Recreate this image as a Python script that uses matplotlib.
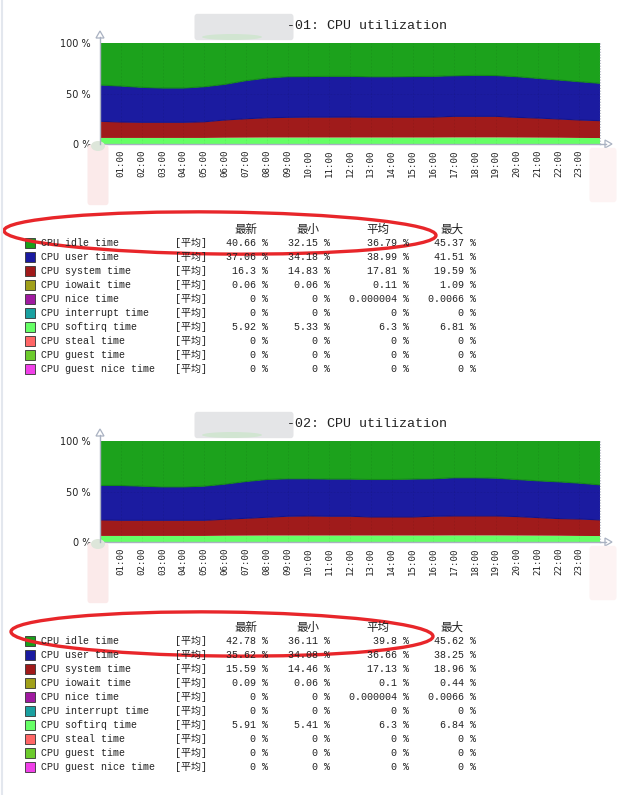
import numpy as np
import matplotlib
matplotlib.use("Agg")
import matplotlib.pyplot as plt
from matplotlib.patches import Ellipse, Polygon, FancyBboxPatch, Rectangle
from matplotlib.lines import Line2D

W, H = 629, 795

# ---- data -------------------------------------------------------------
hours = list(range(25))
hour_ticks = list(range(1, 24))
hour_labels = [f"{h:02d}:00" for h in hour_ticks]

# host 01, stacked series (percent), one value per hour
c1_softirq = [6.0, 6.0, 6.0, 6.0, 6.0, 6.0, 6.2, 6.3, 6.4, 6.4, 6.4, 6.4, 6.4,
              6.4, 6.4, 6.4, 6.4, 6.5, 6.5, 6.5, 6.4, 6.3, 6.2, 6.0, 5.9]
c1_system = [16.5, 15.8, 15.5, 15.5, 15.5, 16.0, 17.6, 18.7, 19.6, 20.0, 20.2, 20.2, 20.3,
             20.1, 20.1, 20.1, 20.3, 20.9, 20.9, 20.9, 20.0, 19.4, 18.6, 17.8, 17.2]
c1_user = [35.9, 35.6, 34.6, 33.9, 33.9, 34.7, 35.3, 37.7, 39.3, 40.3, 40.2, 40.4, 40.3,
           40.1, 40.1, 40.3, 40.3, 40.2, 40.6, 40.4, 40.3, 39.3, 38.6, 37.9, 37.0]
c1_idle = [41.6, 42.6, 43.9, 44.6, 44.6, 43.3, 40.9, 37.3, 34.7, 33.3, 33.2, 33.0, 33.0,
           33.4, 33.4, 33.2, 33.0, 32.4, 32.0, 32.2, 33.3, 35.0, 36.6, 38.3, 39.9]

# host 02
c2_softirq = [6.0, 6.0, 6.0, 6.0, 6.0, 6.0, 6.2, 6.3, 6.4, 6.4, 6.4, 6.4, 6.4,
              6.4, 6.4, 6.4, 6.4, 6.5, 6.5, 6.5, 6.4, 6.3, 6.2, 6.0, 5.9]
c2_system = [15.9, 15.5, 15.5, 15.5, 15.5, 15.5, 16.3, 17.2, 18.1, 19.1, 19.4, 19.1, 19.1,
             18.4, 18.4, 18.4, 19.1, 19.3, 19.3, 19.3, 18.8, 17.9, 17.0, 16.8, 16.0]
c2_user = [34.1, 34.5, 33.8, 33.1, 33.1, 33.8, 34.8, 36.4, 37.4, 37.1, 36.8, 36.8, 36.8,
           37.1, 37.1, 37.5, 37.1, 37.8, 37.8, 37.4, 36.7, 36.4, 36.4, 35.5, 34.7]
c2_idle = [44.0, 44.0, 44.7, 45.4, 45.4, 44.7, 42.7, 40.1, 38.1, 37.4, 37.4, 37.7, 37.7,
           38.1, 38.1, 37.7, 37.4, 36.4, 36.4, 36.8, 38.1, 39.4, 40.4, 41.7, 43.4]

items = ["CPU idle time", "CPU user time", "CPU system time", "CPU iowait time",
         "CPU nice time", "CPU interrupt time", "CPU softirq time", "CPU steal time",
         "CPU guest time", "CPU guest nice time"]
item_colors = ["#1A9F1A", "#1A1AA0", "#A01A1A", "#A0A01A", "#A01AA0",
               "#1AA0A0", "#66FF66", "#FF6666", "#6CCB2C", "#F040E8"]
headers = ["最新", "最小", "平均", "最大"]

c1_last = [40.66, 37.06, 16.3, 0.06, 0, 0, 5.92, 0, 0, 0]
c1_min = [32.15, 34.18, 14.83, 0.06, 0, 0, 5.33, 0, 0, 0]
c1_avg = [36.79, 38.99, 17.81, 0.11, 0.000004, 0, 6.3, 0, 0, 0]
c1_max = [45.37, 41.51, 19.59, 1.09, 0.0066, 0, 6.81, 0, 0, 0]

c2_last = [42.78, 35.62, 15.59, 0.09, 0, 0, 5.91, 0, 0, 0]
c2_min = [36.11, 34.08, 14.46, 0.06, 0, 0, 5.41, 0, 0, 0]
c2_avg = [39.8, 36.66, 17.13, 0.1, 0.000004, 0, 6.3, 0, 0, 0]
c2_max = [45.62, 38.25, 18.96, 0.44, 0.0066, 0, 6.84, 0, 0, 0]

# ---- helpers ----------------------------------------------------------
MONO = ["Liberation Mono", "Noto Sans CJK SC"]
CJK = ["Noto Sans CJK SC", "DejaVu Sans"]
AXIS_GRAY = "#a9b1c1"


def fx(x):
    return x / W


def fy(y):
    return 1 - y / H


def fmt(v):
    return np.format_float_positional(v, trim="-") + " %"


def draw_chart(fig, top, title, softirq, system, user, idle):
    bottom = top + 101
    ax = fig.add_axes([fx(100), fy(bottom), fx(600) - fx(100), fy(top) - fy(bottom)])
    ax.stackplot(hours, softirq, system, user, idle,
                 colors=["#66FF66", "#A01B1B", "#1B1BA0", "#1CA21C"], linewidth=0)
    red_top = np.add(softirq, system)
    blue_top = red_top + np.array(user)
    ax.plot(hours, red_top, color="#14148a", lw=0.8)
    ax.plot(hours, blue_top, color="#12861a", lw=0.8)
    ax.set_xlim(0, 24)
    ax.set_ylim(0, 100)
    ax.set_yticks([0, 50, 100], ["0 %", "50 %", "100 %"])
    ax.set_xticks(hour_ticks, hour_labels, rotation=90)
    ax.tick_params(axis="y", length=0, pad=6.5, labelsize=7, labelcolor="#222222")
    ax.tick_params(axis="x", length=0, pad=4.3, labelsize=6.6, labelcolor="#222222")
    for lab in ax.get_xticklabels():
        lab.set_family("DejaVu Sans Mono")
    for s in ["top", "right", "left"]:
        ax.spines[s].set_visible(False)
    ax.spines["bottom"].set_color(AXIS_GRAY)
    ax.spines["bottom"].set_linewidth(1.0)
    for h in hour_ticks:
        ax.axvline(h, color="k", alpha=0.07, lw=0.6, ls=(0, (2, 2)))
    ax.axhline(50, color="k", alpha=0.07, lw=0.6, ls=(0, (2, 2)))
    ax.axvline(24, color="#b8bcc8", lw=0.8, ls=(0, (1, 1.5)), clip_on=False)

    # axis lines and arrow heads
    fig.add_artist(Line2D([fx(100), fx(100)], [fy(bottom), fy(top - 6)],
                          color=AXIS_GRAY, lw=1.0))
    fig.add_artist(Line2D([fx(600), fx(606)], [fy(bottom), fy(bottom)],
                          color=AXIS_GRAY, lw=1.0))
    fig.add_artist(Polygon([[fx(96), fy(top - 5)], [fx(104), fy(top - 5)], [fx(100), fy(top - 12)]],
                           closed=True, fill=False, ec=AXIS_GRAY, lw=0.9))
    fig.add_artist(Polygon([[fx(605), fy(bottom - 4)], [fx(605), fy(bottom + 4)], [fx(612), fy(bottom)]],
                           closed=True, fill=False, ec=AXIS_GRAY, lw=0.9))

    # title, host name blurred
    fig.text(fx(447), fy(top - 17), title, ha="right", va="center",
             family=MONO, fontsize=9.6, color="#222222")
    fig.add_artist(FancyBboxPatch((fx(197), fy(top - 6)), fx(94), fy(top - 26) - fy(top - 6),
                                  boxstyle="round,pad=0.004", fc="#e4e5e7", ec="none"))
    fig.add_artist(Ellipse((fx(232), fy(top - 6)), fx(60), fy(0) - fy(6),
                           fc="#cfe6cf", ec="none", alpha=0.9))

    # pale redaction smudges near the axes corners
    fig.add_artist(FancyBboxPatch((fx(90), fy(bottom + 58)), fx(16), fy(0) - fy(54),
                                  boxstyle="round,pad=0.004", fc="#fbeaea", ec="none"))
    fig.add_artist(Ellipse((fx(98), fy(bottom + 2)), fx(14), fy(0) - fy(10),
                           fc="#dde6da", ec="none"))
    fig.add_artist(FancyBboxPatch((fx(592), fy(bottom + 55)), fx(22), fy(0) - fy(48),
                                  boxstyle="round,pad=0.004", fc="#fdf3f3", ec="none"))
    return ax


def draw_legend(fig, header_y, last, vmin, avg, vmax):
    col_right = [268, 330, 409, 476]
    col_center = [246, 308, 378, 452]
    for x, h in zip(col_center, headers):
        fig.text(fx(x), fy(header_y), h, ha="center", va="center",
                 family=CJK, fontsize=8.3, color="#222222")
    for i, name in enumerate(items):
        y = header_y + 13.5 + 14 * i
        fig.add_artist(Rectangle((fx(25), fy(y + 5)), fx(10), fy(0) - fy(10),
                                 fc=item_colors[i], ec="#333333", lw=0.6))
        fig.text(fx(41), fy(y), name, ha="left", va="center",
                 family=MONO, fontsize=7.2, color="#222222")
        fig.text(fx(175), fy(y), "[平均]", ha="left", va="center",
                 family=MONO, fontsize=7.2, color="#222222")
        for x, col in zip(col_right, [last, vmin, avg, vmax]):
            fig.text(fx(x), fy(y), fmt(col[i]), ha="right", va="center",
                     family=MONO, fontsize=7.2, color="#222222")


# ---- figure -----------------------------------------------------------
fig = plt.figure(figsize=(W / 100, H / 100), dpi=100)
fig.patch.set_facecolor("white")

fig.add_artist(Line2D([fx(2), fx(2)], [0, 1], color="#e3e7ee", lw=1.5))

draw_chart(fig, 43, "-01: CPU utilization", c1_softirq, c1_system, c1_user, c1_idle)
draw_legend(fig, 229, c1_last, c1_min, c1_avg, c1_max)

draw_chart(fig, 441, "-02: CPU utilization", c2_softirq, c2_system, c2_user, c2_idle)
draw_legend(fig, 627, c2_last, c2_min, c2_avg, c2_max)

# hand-drawn red ellipses around header + first row
fig.add_artist(Ellipse((fx(220), fy(233)), fx(432), fy(0) - fy(42), angle=-0.5,
                       fill=False, ec="#e8262a", lw=2.4))
fig.add_artist(Ellipse((fx(222), fy(634)), fx(422), fy(0) - fy(44), angle=-0.5,
                       fill=False, ec="#e8262a", lw=2.4))

fig.savefig("out.png", dpi=100)
